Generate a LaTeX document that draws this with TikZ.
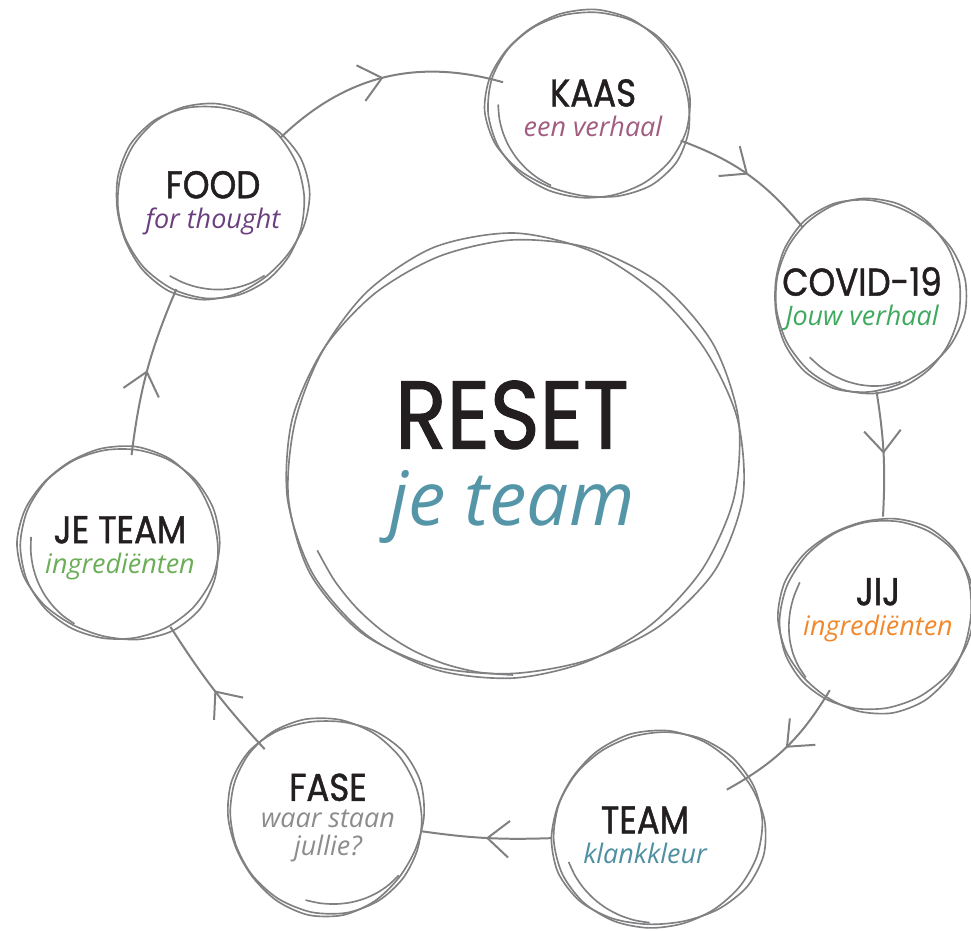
\documentclass[tikz,border=0pt]{standalone}
\usepackage{fontspec}
\setmainfont{Poppins}
\newfontfamily\headfont{Poppins}[FakeStretch=0.88, FakeBold=1.2]
\newfontfamily\handfont{Open Sans}
\usetikzlibrary{arrows.meta, decorations.markings}

\definecolor{inkgray}{HTML}{808082}
\definecolor{inkblack}{HTML}{231F20}
\definecolor{kaascol}{HTML}{A25C80}
\definecolor{covidcol}{HTML}{3DAA5E}
\definecolor{foodcol}{HTML}{6B3F7E}
\definecolor{jijcol}{HTML}{F0892E}
\definecolor{teamcol}{HTML}{4F8FA2}
\definecolor{fasecol}{HTML}{8C8C8E}
\definecolor{jeteamcol}{HTML}{6BAE57}
\definecolor{resetcol}{HTML}{5595A8}

\newcommand{\ringtitle}[2]{{\headfont\color{inkblack}\fontsize{#1}{#1}\selectfont #2}}
\newcommand{\ringnote}[3]{{\handfont\itshape\color{#1}\fontsize{#2}{#2}\selectfont #3}}

% a hand drawn double ring: x, y, x radius, y radius, twist
\newcommand{\sketchring}[5]{%
  \begin{scope}[shift={(#1,#2)}, rotate=#5]
    \draw[ring] plot[smooth cycle, domain=0:340, samples=18, variable=\t]
      ({#3*(1+0.03*sin(3*\t))*cos(\t)}, {#4*(1+0.03*sin(3*\t))*sin(\t)});
    \draw[ring] plot[smooth cycle, domain=0:340, samples=18, variable=\t]
      ({(#3-5)*(1+0.035*cos(2*\t+40))*cos(\t)}, {(#4+3)*(1+0.035*cos(2*\t+40))*sin(\t)});
    \draw[ring] plot[smooth, domain=100:165, samples=8, variable=\t]
      ({(#3-12)*cos(\t)}, {(#4-4)*sin(\t)});
  \end{scope}}

\begin{document}
\begin{tikzpicture}[x=0.3mm, y=-0.3mm,
    ring/.style={draw=inkgray, line width=1.4pt},
    link/.style={draw=inkgray, line width=1.7pt, bend left=15, postaction={decorate},
      decoration={markings, mark=at position 0.5 with {\arrow{Straight Barb[length=6.5mm, width=11mm]}}}},
    spot/.style={circle, minimum size=56mm, inner sep=0pt, align=center}]
  \useasboundingbox (0,0) rectangle (971,931);

  % Centre
  \node[spot, minimum size=132mm] (reset) at (512,462)
    {\ringtitle{82}{RESET}\\[17pt]\ringnote{resetcol}{64}{je team}};

  % The seven stops
  \node[spot] (kaas) at (593,108)
    {\ringtitle{33}{KAAS}\\[7pt]\ringnote{kaascol}{23}{een verhaal}};
  \node[spot] (covid) at (862,299)
    {\ringtitle{33}{COVID-19}\\[7pt]\ringnote{covidcol}{23}{Jouw verhaal}};
  \node[spot] (jij) at (878,610)
    {\ringtitle{33}{JIJ}\\[7pt]\ringnote{jijcol}{23}{ingrediënten}};
  \node[spot] (team) at (645,835)
    {\ringtitle{33}{TEAM}\\[7pt]\ringnote{teamcol}{23}{klankkleur}};
  \node[spot] (fase) at (328,818)
    {\ringtitle{33}{FASE}\\[6pt]\ringnote{fasecol}{23}{waar staan}\\[6pt]\ringnote{fasecol}{23}{jullie?}};
  \node[spot] (jeteam) at (120,548)
    {\ringtitle{33}{JE TEAM}\\[7pt]\ringnote{jeteamcol}{23}{ingrediënten}};
  \node[spot] (food) at (213,203)
    {\ringtitle{33}{FOOD}\\[7pt]\ringnote{foodcol}{23}{for thought}};

  % Draw the rings
  \sketchring{513}{459}{228}{220}{10}
  \sketchring{589}{105}{103}{93}{-15}
  \sketchring{868}{296}{96}{96}{30}
  \sketchring{877}{615}{95}{99}{-40}
  \sketchring{658}{830}{107}{97}{5}
  \sketchring{326}{816}{98}{98}{60}
  \sketchring{120}{544}{101}{96}{-20}
  \sketchring{211}{201}{97}{96}{45}

  % Draw the cycle
  \draw[link, bend left=30] (food) to (kaas);
  \draw[link] (kaas) to (covid);
  \draw[link, bend left=6] (covid) to (jij);
  \draw[link] (jij) to (team);
  \draw[link, bend left=5] (team) to (fase);
  \draw[link, bend left=5] (fase) to (jeteam);
  \draw[link, bend left=8] (jeteam) to (food);
\end{tikzpicture}
\end{document}
